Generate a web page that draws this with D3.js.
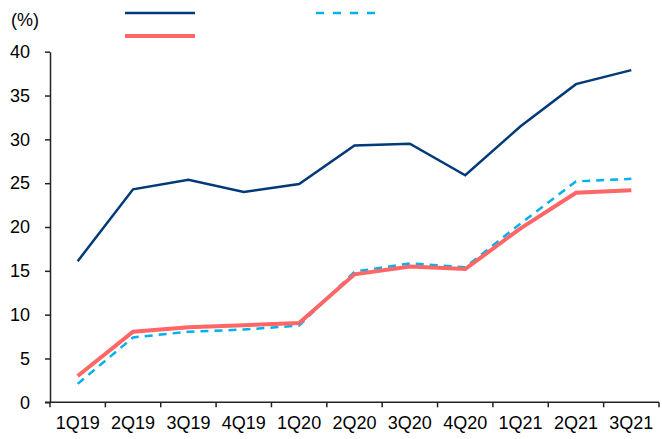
<!DOCTYPE html>
<html>
<head>
<meta charset="utf-8">
<script src="https://cdn.jsdelivr.net/npm/d3@7"></script>
<style>
  body { margin: 0; background: #fff; }
  text { font-family: "Liberation Sans", Arial, sans-serif; fill: #000; }
</style>
</head>
<body>
<div id="chart"></div>
<script>
// quarters on the x axis
var quarters = ["1Q19", "2Q19", "3Q19", "4Q19", "1Q20", "2Q20", "3Q20", "4Q20", "1Q21", "2Q21", "3Q21"];
// series (%)
var navySeries = [16.1, 24.3, 25.4, 24.0, 24.9, 29.3, 29.5, 25.9, 31.5, 36.3, 37.9];
var redSeries = [3.0, 8.05, 8.55, 8.8, 9.05, 14.6, 15.5, 15.2, 19.85, 23.9, 24.2];
var blueSeries = [2.1, 7.4, 8.05, 8.3, 8.75, 14.9, 15.85, 15.4, 20.4, 25.2, 25.5];
var yTicks = [0, 5, 10, 15, 20, 25, 30, 35, 40];

var svgWidth = 662;
var svgHeight = 439;

var svg = d3.select("#chart")
  .append("svg")
  .attr("width", svgWidth)
  .attr("height", svgHeight);

var x = d3.scaleBand()
  .domain(quarters)
  .range([50, 659])
  .padding(0);

var y = d3.scaleLinear()
  .domain([0, 40])
  .range([402.3, 51.7]);

var axisColor = "#222";

// y axis
var yAxis = svg.append("g")
  .attr("transform", "translate(50,0)")
  .call(d3.axisLeft(y).tickValues(yTicks).tickSize(5).tickSizeOuter(0).tickPadding(15));
yAxis.select(".domain").attr("stroke", axisColor).attr("stroke-width", 1.5);
yAxis.selectAll(".tick line").attr("stroke", axisColor).attr("stroke-width", 1.5);
yAxis.selectAll("text").style("font-size", "18px").attr("fill", "#000");

// x axis, ticks on the band edges
var xAxisG = svg.append("g")
  .attr("transform", "translate(0," + y(0) + ")");
xAxisG.append("line")
  .attr("x1", 45).attr("x2", 659)
  .attr("stroke", axisColor).attr("stroke-width", 1.5);
var edges = quarters.map(function(q) { return x(q); }).concat([x(quarters[quarters.length - 1]) + x.bandwidth()]);
xAxisG.selectAll(".edge")
  .data(edges)
  .enter()
  .append("line")
  .attr("x1", d => d).attr("x2", d => d)
  .attr("y1", 0).attr("y2", 5)
  .attr("stroke", axisColor).attr("stroke-width", 1.5);
xAxisG.selectAll(".lbl")
  .data(quarters)
  .enter()
  .append("text")
  .attr("x", d => x(d) + x.bandwidth() / 2)
  .attr("y", 27)
  .attr("text-anchor", "middle")
  .style("font-size", "18px")
  .text(d => d);

// unit label
svg.append("text")
  .attr("x", 11)
  .attr("y", 26)
  .style("font-size", "18px")
  .text("(%)");

var line = d3.line()
  .x(function(d, i) { return x(quarters[i]) + x.bandwidth() / 2; })
  .y(function(d) { return y(d); });

svg.append("path")
  .datum(navySeries)
  .attr("d", line)
  .attr("fill", "none")
  .attr("stroke", "#003a78")
  .attr("stroke-width", 2.5);

svg.append("path")
  .datum(blueSeries)
  .attr("d", line)
  .attr("fill", "none")
  .attr("stroke", "#00b0f0")
  .attr("stroke-width", 2.5)
  .attr("stroke-dasharray", "8,6");

svg.append("path")
  .datum(redSeries)
  .attr("d", line)
  .attr("fill", "none")
  .attr("stroke", "#ff6666")
  .attr("stroke-width", 4);

// legend swatches (no labels in the source)
svg.append("line")
  .attr("x1", 125).attr("x2", 195).attr("y1", 13).attr("y2", 13)
  .attr("stroke", "#003a78").attr("stroke-width", 2.5);
svg.append("line")
  .attr("x1", 316).attr("x2", 380).attr("y1", 13).attr("y2", 13)
  .attr("stroke", "#00b0f0").attr("stroke-width", 2.5)
  .attr("stroke-dasharray", "8,9");
svg.append("line")
  .attr("x1", 125).attr("x2", 195).attr("y1", 36).attr("y2", 36)
  .attr("stroke", "#ff6666").attr("stroke-width", 4);
</script>
</body>
</html>
